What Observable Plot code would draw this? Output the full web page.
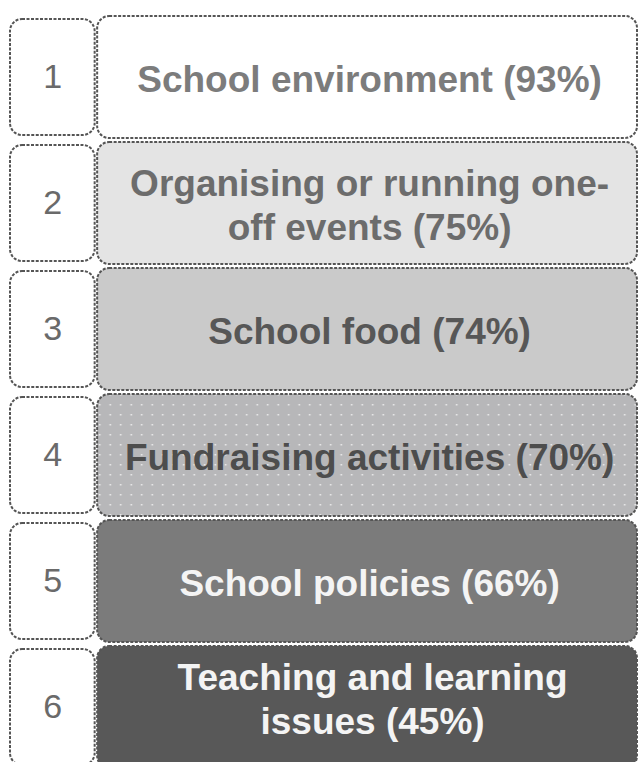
<!DOCTYPE html>
<html><head><meta charset="utf-8">
<script src="https://cdn.jsdelivr.net/npm/d3@7"></script>
<script src="https://cdn.jsdelivr.net/npm/@observablehq/plot@0.6"></script>
<style>html,body{margin:0;padding:0;background:#fff;overflow:hidden}</style>
</head><body><div id="chart"></div>
<script>
const ranks = [1, 2, 3, 4, 5, 6];
const categories = [
  "School environment",
  "Organising or running one-\noff events",
  "School food",
  "Fundraising activities",
  "School policies",
  "Teaching and learning\nissues"
];
const percentages = [93, 75, 74, 70, 66, 45];
const boxFills = ["#ffffff", "#e4e4e4", "#cacaca", "url(#dots4)", "#7b7b7b", "#585858"];
const textColors = ["#7c7c7c", "#6c6c6c", "#575757", "#4d4d4d", "#f4f4f4", "#f4f4f4"];

const rows = ranks.map((r, i) => ({
  rank: r,
  label: `${categories[i]} (${percentages[i]}%)`,
  fill: boxFills[i],
  ink: textColors[i]
}));

// layout columns (fractions of the plot width)
const numCol = [0, 0.135];
const labCol = [0.139, 1];
const font = "'Liberation Sans', Arial, Helvetica, sans-serif";

const chart = Plot.plot({
  width: 639,
  height: 762,
  margin: 0,
  style: {background: "#fff", overflow: "hidden"},
  x: {domain: [0, 1], range: [10, 637], axis: null},
  y: {type: "band", domain: ranks, range: [13, 771], paddingInner: 0.03, paddingOuter: 0, axis: null},
  color: {type: "identity"},
  marks: [
    Plot.barX(rows, {
      x1: () => labCol[0], x2: () => labCol[1], y: "rank",
      fill: "fill", stroke: "#555", strokeWidth: 2, strokeDasharray: "3,1.5",
      rx: 12
    }),
    Plot.barX(rows, {
      x1: () => numCol[0], x2: () => numCol[1], y: "rank",
      fill: "#fff", stroke: "#555", strokeWidth: 2, strokeDasharray: "3,1.5",
      rx: 12, insetTop: 3, insetBottom: 3
    }),
    Plot.text(rows, {
      x: () => (numCol[0] + numCol[1]) / 2, y: "rank", text: d => String(d.rank),
      fill: "#6a6a6a", fontSize: 34, fontFamily: font
    }),
    Plot.text(rows.filter(d => d.rank !== 6), {
      x: () => (labCol[0] + labCol[1]) / 2, y: "rank", text: "label", dx: 2,
      fill: "ink", fontSize: 37, fontWeight: "bold", lineHeight: 1.2, fontFamily: font
    }),
    Plot.text(rows.filter(d => d.rank === 6), {
      x: () => (labCol[0] + labCol[1]) / 2, y: "rank", text: "label", dx: 5, dy: -10,
      fill: "ink", fontSize: 37, fontWeight: "bold", lineHeight: 1.2, fontFamily: font
    })
  ]
});

// dotted texture for the fourth box
const ns = "http://www.w3.org/2000/svg";
const defs = document.createElementNS(ns, "defs");
defs.innerHTML = `<pattern id="dots4" width="10.5" height="10" patternUnits="userSpaceOnUse">
  <rect width="10.5" height="10" fill="#b7b7b9"></rect>
  <rect x="4.5" y="4" width="1.5" height="1.5" fill="#f0f0f0"></rect>
</pattern>`;
chart.insertBefore(defs, chart.firstChild);
document.getElementById("chart").append(chart);
</script>
</body></html>
